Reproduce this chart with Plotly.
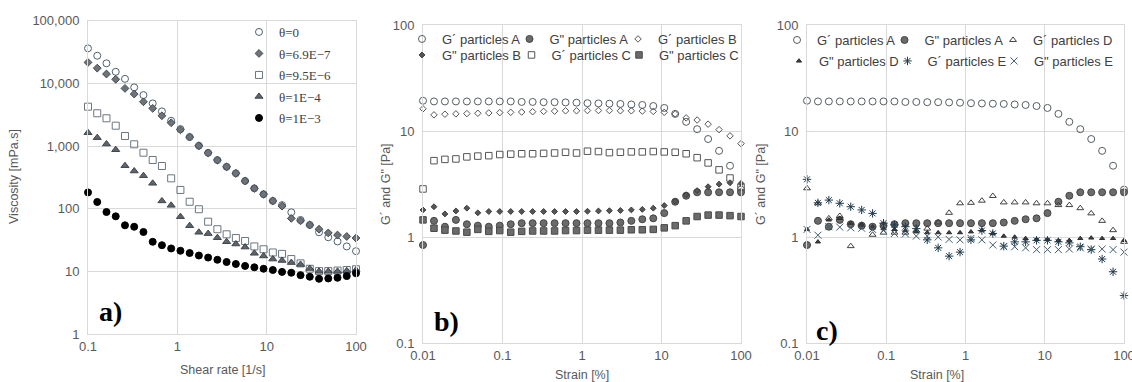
import plotly.graph_objects as go

# ---------------- data ----------------
shear_rate = [0.1, 0.1269, 0.1610, 0.2043, 0.2593, 0.3290, 0.4175, 0.5298, 0.6723, 0.8532,
              1.083, 1.374, 1.743, 2.212, 2.807, 3.562, 4.520, 5.736, 7.279, 9.237,
              11.72, 14.87, 18.87, 23.95, 30.39, 38.57, 48.94, 62.10, 78.80, 100.0]
visc_theta_0 = [36200, 27600, 20900, 15300, 11800, 8620, 6500, 4790, 3570, 2530,
                1860, 1390, 1010, 778, 596, 466, 367, 277, 211, 170,
                133, 114, 87.5, 66, 55, 42, 35, 30, 25, 21]
visc_theta_69e7 = [21600, 17500, 14100, 11600, 8310, 6750, 5080, 3990, 3040, 2350,
                   1815, 1390, 1010, 778, 596, 466, 367, 277, 211, 170,
                   133, 110, 70, 64, 55, 47, 41, 38, 36, 34]
visc_theta_95e6 = [4245, 3330, 2770, 2110, 1445, 1065, 782, 598, 480, 305,
                   199, 129, 98, 62, 47, 39, 34, 30.5, 25, 22.5,
                   20, 19, 15.7, 13.4, 11, 10.1, 10.1, 10.3, 10.5, 10.8]
visc_theta_1e4 = [1630, 1360, 1077, 873, 485, 399, 336, 254, 133, 113,
                  74.5, 53.5, 42, 40, 34.4, 29.7, 27.3, 24.4, 19.4, 17.6,
                  15.7, 14.9, 13.8, 12.9, 11.1, 10.0, 10.0, 10.0, 10.2, 10.5]
visc_theta_1e3 = [182, 128, 88.5, 75.5, 54.3, 51.5, 42.5, 29.6, 26.1, 23.2,
                  21.3, 19.6, 17.9, 16.6, 15.3, 14.1, 13.1, 12.2, 11.6, 11.0,
                  10.5, 9.8, 9.5, 8.7, 8.2, 7.6, 7.7, 7.9, 8.4, 9.3]
theta_labels = ["θ=0", "θ=6.9E−7", "θ=9.5E−6", "θ=1E−4", "θ=1E−3"]

strain = [0.01, 0.01374, 0.01887, 0.02593, 0.03562, 0.04894, 0.06723, 0.09237, 0.1269, 0.1743,
          0.2395, 0.3290, 0.4520, 0.6210, 0.8532, 1.172, 1.610, 2.212, 3.039, 4.175,
          5.736, 7.880, 10.83, 14.87, 20.43, 28.07, 38.57, 52.98, 72.79, 100.0]
gp_A = [19.3, 19.0, 19.0, 19.0, 19.0, 19.0, 19.0, 19.0, 19.0, 18.8,
        18.8, 18.7, 18.7, 18.6, 18.5, 18.3, 18.2, 18.1, 18.0, 17.8,
        17.6, 17.2, 16.5, 14.5, 12.2, 10.4, 8.4, 6.5, 4.7, 2.8]
gpp_A = [0.84, 1.42, 1.25, 1.45, 1.32, 1.28, 1.25, 1.28, 1.32, 1.35,
         1.35, 1.35, 1.35, 1.35, 1.35, 1.35, 1.35, 1.35, 1.37, 1.42,
         1.47, 1.50, 1.68, 2.15, 2.45, 2.64, 2.64, 2.64, 2.64, 2.64]
gp_B = [16.2, 14.2, 14.4, 14.5, 14.6, 14.7, 14.8, 14.9, 15.0, 15.1,
        15.2, 15.3, 15.4, 15.5, 15.5, 15.6, 15.6, 15.6, 15.5, 15.5,
        15.4, 15.3, 15.0, 14.5, 13.3, 12.7, 11.6, 10.3, 9.0, 7.6]
gpp_B = [1.80, 1.93, 1.65, 1.76, 1.87, 1.69, 1.74, 1.74, 1.74, 1.74,
         1.74, 1.74, 1.74, 1.74, 1.74, 1.75, 1.76, 1.77, 1.78, 1.80,
         1.82, 1.87, 1.98, 2.17, 2.50, 2.74, 2.98, 3.15, 3.25, 3.20]
gp_C = [2.84, 5.25, 5.4, 5.45, 5.7, 5.8, 5.85, 6.0, 6.05, 6.1,
        6.1, 6.15, 6.2, 6.3, 6.2, 6.45, 6.4, 6.25, 6.3, 6.35,
        6.35, 6.4, 6.35, 6.3, 6.1, 5.6, 5.0, 4.3, 3.6, 2.95]
gpp_C = [1.45, 1.21, 1.16, 1.14, 1.11, 1.18, 1.13, 1.15, 1.11, 1.13,
         1.14, 1.14, 1.14, 1.15, 1.15, 1.16, 1.16, 1.16, 1.16, 1.17,
         1.17, 1.18, 1.22, 1.28, 1.42, 1.56, 1.61, 1.61, 1.59, 1.56]
gp_D = [2.88, 2.08, 1.5, 1.58, 0.82, 1.3, 1.05, 1.1, 1.1, 1.1,
        1.15, 1.2, 1.37, 1.69, 2.08, 2.1, 2.2, 2.44, 2.12, 2.12,
        2.12, 2.08, 2.08, 2.0, 2.0, 1.87, 1.67, 1.42, 1.16, 0.9]
gpp_D = [1.18, 0.9, 1.45, 1.5, 1.35, 1.3, 1.25, 1.2, 1.18, 1.15,
         1.12, 1.1, 1.1, 1.1, 1.1, 1.12, 1.16, 1.08, 1.02, 1.0,
         0.97, 0.95, 0.95, 0.93, 0.93, 0.97, 0.98, 0.97, 0.97, 0.93]
gp_E = [3.5, 2.1, 2.23, 2.08, 1.93, 1.8, 1.67, 1.35, 1.3, 1.25,
        1.2, 0.94, 0.79, 0.66, 0.72, 0.94, 1.15, 1.08, 0.82, 0.9,
        0.9, 0.93, 0.93, 0.9, 0.88, 0.81, 0.76, 0.62, 0.47, 0.28]
gpp_E = [1.18, 1.04, 1.25, 1.24, 1.22, 1.21, 1.18, 1.15, 1.08, 1.07,
         1.02, 1.02, 1.0, 0.95, 0.94, 0.97, 0.94, 0.84, 0.81, 0.81,
         0.79, 0.76, 0.76, 0.76, 0.77, 0.79, 0.77, 0.77, 0.76, 0.72]

visc_ticks = [1, 10, 100, 1000, 10000, 100000]
visc_ticktext = ["1", "10", "100", "1,000", "10,000", "100,000"]
shear_ticks = [0.1, 1, 10, 100]
shear_ticktext = ["0.1", "1", "10", "100"]
strain_ticks = [0.01, 0.1, 1, 10, 100]
strain_ticktext = ["0.01", "0.1", "1", "10", "100"]
mod_ticks = [0.1, 1, 10, 100]
mod_ticktext = ["0.1", "1", "10", "100"]

# ---------------- figure ----------------
W, H = 1132, 382
SANS = "Liberation Sans"
SERIF = "Liberation Serif"
TXT = "#595959"
GRID = "#d9d9d9"

fig = go.Figure()


def add(x, y, name, xa, ya, legend, symbol, size, color, lcolor=None, lwidth=1.0, lw=None):
    mk = dict(symbol=symbol, size=size, color=color,
              line=dict(color=lcolor if lcolor else color, width=lwidth))
    kw = {}
    if lw is not None:
        kw["legendwidth"] = lw
    fig.add_trace(go.Scatter(x=x, y=y, name=name, mode="markers", marker=mk,
                             xaxis=xa, yaxis=ya, legend=legend, cliponaxis=False,
                             legendgroup=name + legend, **kw))


# panel a
add(shear_rate, visc_theta_0, theta_labels[0], "x", "y", "legend", "circle-open", 7, "#4f6070")
add(shear_rate, visc_theta_69e7, theta_labels[1], "x", "y", "legend", "diamond", 6, "#6e7379", "#454a50")
add(shear_rate, visc_theta_95e6, theta_labels[2], "x", "y", "legend", "square-open", 7, "#6c7680")
add(shear_rate, visc_theta_1e4, theta_labels[3], "x", "y", "legend", "triangle-up", 7, "#5d646b", "#3f454b")
add(shear_rate, visc_theta_1e3, theta_labels[4], "x", "y", "legend", "circle", 7, "#000000")

# panel b
add(strain, gp_A, "G´ particles A", "x2", "y2", "legend2", "circle-open", 7, "#555d63", lw=62.5)
add(strain, gpp_A, 'G" particles A', "x2", "y2", "legend2", "circle", 7, "#6b6b6b", "#444444", lw=63.5)
add(strain, gp_B, "G´ particles B", "x2", "y2", "legend2", "diamond-open", 5, "#555555")
add(strain, gpp_B, 'G" particles B', "x2", "y2", "legend3", "diamond", 4.5, "#555555", "#3d3d3d", lw=64.5)
add(strain, gp_C, "G´ particles C", "x2", "y2", "legend3", "square-open", 6.5, "#555555", lw=62.5)
add(strain, gpp_C, 'G" particles C', "x2", "y2", "legend3", "square", 6.5, "#6b6b6b", "#4a4a4a")

# panel c
add(strain, gp_A, "G´ particles A", "x3", "y3", "legend4", "circle-open", 7, "#555d63", lw=62.5)
add(strain, gpp_A, 'G" particles A', "x3", "y3", "legend4", "circle", 7, "#6b6b6b", "#444444", lw=63.5)
add(strain, gp_D, "G´ particles D", "x3", "y3", "legend4", "triangle-up-open", 6, "#404040")
add(strain, gpp_D, 'G" particles D', "x3", "y3", "legend5", "triangle-up", 4.5, "#404040", "#2e2e2e", lw=63.5)
add(strain, gp_E, "G´ particles E", "x3", "y3", "legend5", "asterisk-open", 7, "#1f3a4a", lw=61.5)
add(strain, gpp_E, 'G" particles E', "x3", "y3", "legend5", "x-thin-open", 7, "#3f5b6c")


def axis(domain, rng, tv, tt, anchor, standoff=0):
    d = dict(domain=domain, type="log", range=rng, anchor=anchor,
             tickmode="array", tickvals=tv, ticktext=tt,
             showgrid=True, gridcolor=GRID, gridwidth=1,
             showline=True, linecolor=GRID, linewidth=1, mirror=True,
             zeroline=False, ticks="", automargin=False, ticklabeloverflow="allow",
             tickfont=dict(family=SANS, size=13, color=TXT))
    if standoff:
        d["ticklabelstandoff"] = standoff
    return d


ya_dom = [1 - 334 / H, 1 - 20.7 / H]
yb_dom = [1 - 343 / H, 1 - 25 / H]
fig.update_layout(
    width=W, height=H, margin=dict(l=0, r=0, t=0, b=0),
    paper_bgcolor="white", plot_bgcolor="white",
    xaxis=axis([88 / W, 356 / W], [-1, 2], shear_ticks, shear_ticktext, "y"),
    yaxis=axis(ya_dom, [0, 5], visc_ticks, visc_ticktext, "x", 5),
    xaxis2=axis([423 / W, 741 / W], [-2, 2], strain_ticks, strain_ticktext, "y2"),
    yaxis2=axis(yb_dom, [-1, 2], mod_ticks, mod_ticktext, "x2", 5),
    xaxis3=axis([807 / W, 1124 / W], [-2, 2], strain_ticks, strain_ticktext, "y3"),
    yaxis3=axis(yb_dom, [-1, 2], mod_ticks, mod_ticktext, "x3", 5),
    showlegend=True,
)

leg_common = dict(bgcolor="rgba(0,0,0,0)", borderwidth=0, xanchor="left", yanchor="top",
                  font=dict(family=SANS, size=13, color="#404040"), itemclick=False)
fig.update_layout(
    legend=dict(x=239 / W, y=1 - 17 / H, orientation="v", traceorder="grouped",
                tracegroupgap=1.6, bgcolor="rgba(0,0,0,0)", borderwidth=0,
                xanchor="left", yanchor="top",
                font=dict(family=SERIF, size=13, color="#404040")),
    legend2=dict(x=402 / W, y=1 - 24 / H, orientation="h", **leg_common),
    legend3=dict(x=402 / W, y=1 - 40 / H, orientation="h", **leg_common),
    legend4=dict(x=777 / W, y=1 - 25 / H, orientation="h", **leg_common),
    legend5=dict(x=779 / W, y=1 - 46 / H, orientation="h", **leg_common),
)

# axis titles and panel labels
ann = []
ann.append(dict(text="Shear rate [1/s]", x=222 / W, y=1 - 370 / H))
ann.append(dict(text="Strain [%]", x=582 / W, y=1 - 375 / H))
ann.append(dict(text="Strain [%]", x=937 / W, y=1 - 375 / H))
for a in ann:
    a.update(xref="paper", yref="paper", showarrow=False, xanchor="center", yanchor="middle",
             font=dict(family=SANS, size=12.5, color=TXT))
for txt, xc in [("Viscosity [mPa.s]", 14), ('G´ and G" [Pa]', 386), ('G´ and G" [Pa]', 761)]:
    yc = 177 if xc == 14 else 184
    ann.append(dict(text=txt, x=xc / W, y=1 - yc / H, xref="paper", yref="paper", showarrow=False,
                    textangle=-90, xanchor="center", yanchor="middle",
                    font=dict(family=SANS, size=12.5, color=TXT)))
for txt, xc, yc in [("a)", 110, 311), ("b)", 447, 321), ("c)", 827, 330)]:
    ann.append(dict(text="<b>" + txt + "</b>", x=xc / W, y=1 - yc / H, xref="paper", yref="paper",
                    showarrow=False, xanchor="center", yanchor="middle",
                    font=dict(family=SERIF, size=28, color="#000000")))
fig.update_layout(annotations=ann)

fig.write_html("out.html")
